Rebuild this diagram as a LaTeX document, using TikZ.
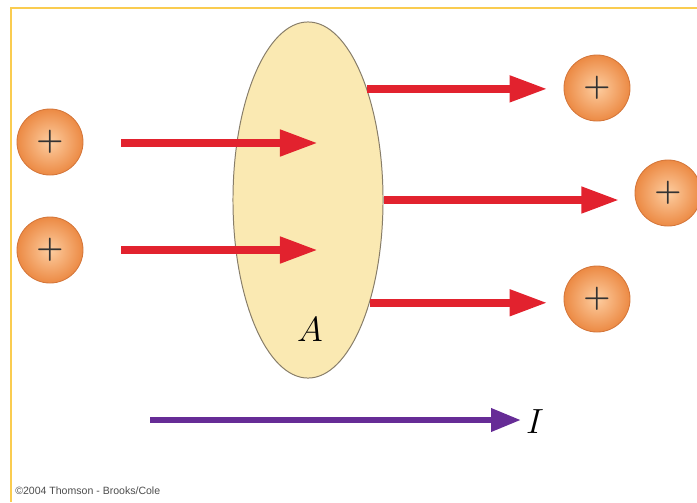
\documentclass[tikz,border=0pt]{standalone}
\usepackage{fontspec}
\newfontfamily\capfont{Liberation Sans}
\usetikzlibrary{arrows.meta,shapes.geometric}
\definecolor{frameline}{RGB}{250,204,80}
\definecolor{areafill}{RGB}{250,233,178}
\definecolor{areaedge}{RGB}{135,125,105}
\definecolor{flowred}{RGB}{226,34,46}
\definecolor{currpurple}{RGB}{102,44,150}
\definecolor{chargein}{RGB}{253,205,160}
\definecolor{chargeout}{RGB}{236,138,68}
\definecolor{chargeedge}{RGB}{212,118,58}
\begin{document}
\begin{tikzpicture}[x=0.025cm, y=-0.025cm,
    charge/.style={circle, draw=chargeedge, line width=0.6pt, inner sep=0pt, minimum size=1.65cm,
        inner color=chargein, outer color=chargeout, text=black!80, font=\fontsize{22}{22}\selectfont\bfseries},
    flow/.style={-{Triangle[length=0.95cm, width=0.62cm]}, line width=0.2cm, flowred},
    current/.style={-{Triangle[length=0.75cm, width=0.55cm]}, line width=0.16cm, currpurple},
]
\useasboundingbox (0,0) rectangle (697,502);
% frame
\draw[frameline, line width=2pt] (11,502) -- (11,8) -- (697,8);
% surface
\node[ellipse, draw=areaedge, fill=areafill, line width=0.7pt, minimum width=3.75cm, minimum height=8.9cm, inner sep=0pt] (area) at (308,200) {};
\node[font=\fontsize{28}{30}\selectfont\itshape] (lbl) at (310,330) {$A$};
% charges
\node[charge] (p1) at (50,142) {+};
\node[charge] (p2) at (50,250) {+};
\node[charge] (q1) at (597,88) {+};
\node[charge] (q2) at (668,193) {+};
\node[charge] (q3) at (597,299) {+};
\coordinate (e1) at (318,143);
\coordinate (e2) at (318,250);
\draw[flow, shorten <=0.95cm] (p1.east |- e1) -- (e1);
\draw[flow, shorten <=0.95cm] (p2.east |- e2) -- (e2);
\draw[flow, shorten >=0.4cm] (area.62) -- (area.62 -| q1.west);
\draw[flow, shorten >=0.38cm] (area.east) -- (area.east -| q2.west);
\draw[flow, shorten >=0.4cm] (area.-59) -- (area.-59 -| q3.west);
% current
\node[font=\fontsize{30}{32}\selectfont] (cur) at (535,422) {$I$};
\coordinate (c0) at (150,420);
\draw[current] (c0) -- (c0 -| cur.west);
\node[anchor=base west, font=\capfont\fontsize{7.5}{8}\selectfont, text=black!70, inner sep=0pt] (copy) at (15,494) {\textcopyright2004 Thomson - Brooks/Cole};
\end{tikzpicture}
\end{document}
